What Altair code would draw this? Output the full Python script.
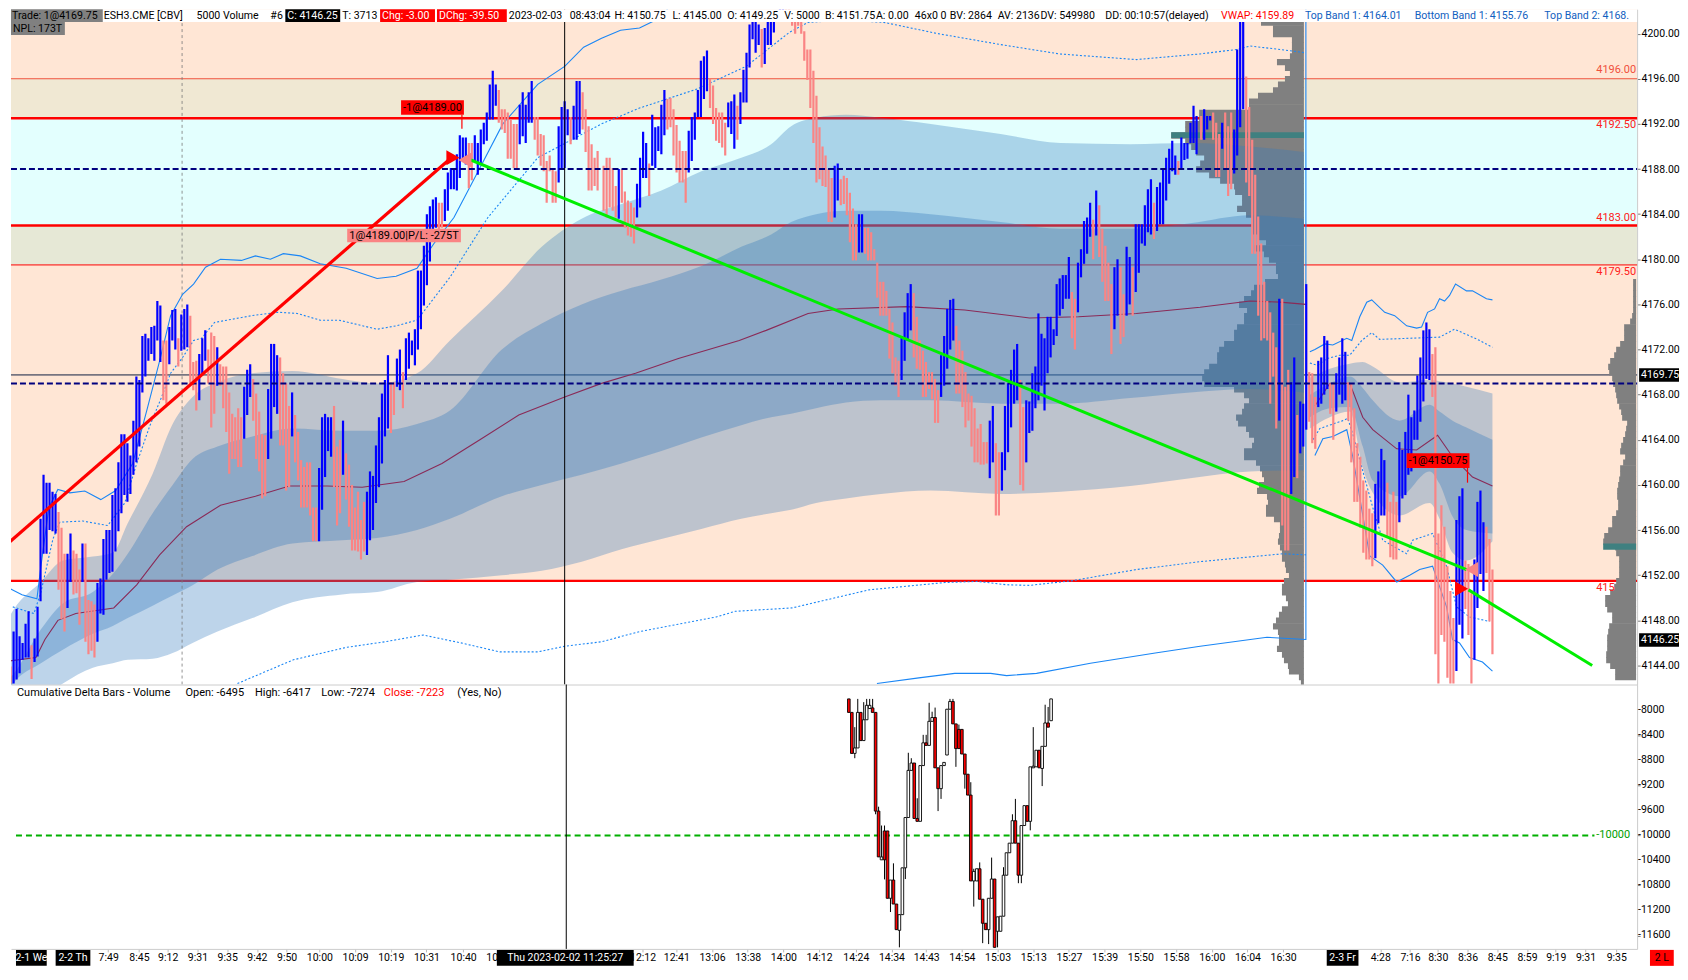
import altair as alt
import pandas as pd
import numpy as np

FONT = "Roboto, sans-serif"
FS = 11
HFS = 10.6
AFS = 10.5

# ---------- price bars (high, low, 1 = up) ----------
bars_a = [(4142.75,4142,0),(4143.9,4142.4,0),(4147,4142.4,1),(4149,4142.75,1),(4146.6,4143.3,1),(4146,4144.5,1),(4147.7,4144.7,1),(4148.8,4144.7,1),(4145.8,4142.8,0),(4146.4,4144.3,1),(4149.2,4144.8,1),(4157,4149.7,1),
(4160.9,4153.9,1),(4160.2,4153.9,1),(4160.2,4156,1),(4159.4,4155.9,1),(4159.2,4155.7,1),(4157.6,4150.7,0),(4156.2,4148.1,0),(4153.9,4147,0),(4153.9,4149.1,1),(4155.7,4151.4,1),(4154.2,4150.3,0),(4153.9,4150.4,0),(4152.5,4147.6,0),(4154.8,4151.4,1),(4154.8,4146.1,0),(4149.8,4145,0),(4149.7,4145.3,0),(4149.4,4144.7,0),
(4151.3,4146.1,1),(4151.7,4148.6,1),(4155.2,4148.5,1),(4156,4151.6,1),(4156,4152.2,1),(4159.1,4152.3,1),(4159.7,4154.1,1),(4162,4155.9,1),(4164.5,4157.5,1),(4164.5,4159.1,1),(4163.7,4158.5,1),(4162.6,4159.2,1),(4165.7,4160.9,1),(4169.6,4162,1),(4169.3,4163.4,1),(4173.2,4168.2,1),(4173.4,4169.6,1),(4173,4171,1),(4174,4171.6,1),(4174.1,4171,1),(4176.3,4172.8,1),(4175.9,4170.9,1),
(4172.8,4167.5,0),(4172.8,4167.2,0),(4174,4170.7,1),(4175.5,4172.8,1),(4175.6,4172,1),(4173,4170.5,0),(4175.1,4171.9,1),(4175.6,4172,1),(4176,4172.2,1),(4175,4169,0),(4170.9,4168.4,0),(4171,4166.6,0),(4171.6,4167.5,1),(4173,4169.9,1),(4173.7,4171,1),(4172,4169,0),(4173.5,4165.1,0),(4173.2,4166.3,0),(4172.2,4168.8,1),(4170.7,4168.8,0),(4170.5,4166.8,0),(4170.5,4164.7,0),(4168.2,4161,0),(4166.3,4162.3,0),(4166,4162.3,0),(4166.8,4161.6,0),(4166,4161.6,0),
(4168.7,4164.1,1),(4170.2,4166.2,1),(4170.7,4167.8,1),(4169.4,4165.7,0),(4168.1,4162.3,0),(4166.5,4161.2,0),(4164.5,4158.8,0),(4164.4,4159,0),(4168.5,4162.3,1),(4172.5,4164.1,1),(4172.5,4166.9,1),(4171.5,4166.3,1),(4171.3,4163.5,0),(4169.9,4163.5,0),(4169,4159.5,0),(4167,4159.8,0),(4168.2,4164.3,1),(4166.2,4162,0),(4164.7,4160.4,0),(4162.2,4158,0),(4161.6,4158,0),(4162,4158,0),(4162,4157.3,0),(4158,4155,0),(4158,4155,0),
(4161.5,4155,1),(4166,4157.8,1),(4166.3,4160.7,1),(4166,4163,1),(4166,4162.5,1),(4167,4159.8,0),(4163.4,4156.4,0),(4164,4157.5,0),(4165.7,4160.9,1),(4162.8,4158.7,0),(4161.8,4156.3,0),(4160,4154.2,0),(4158,4154.2,0),(4159.4,4154.1,0),(4156.9,4153.4,0),(4158.5,4154.1,0),(4159.4,4153.8,1),(4161.2,4155.1,1),(4160.8,4156,1),(4163.5,4158.4,1),(4166,4159.8,1),(4168.1,4161.9,1),(4169.3,4164.3,1),(4171.5,4165,1),(4169.1,4164.6,0),(4169.1,4166.2,0),(4171.2,4168.7,1),(4172,4168.4,1),(4170,4166.8,0),(4173,4169.3,1),(4173.5,4170.3,1),(4172.8,4171.5,1),(4173.8,4170.6,1),
(4179,4172,1),(4179,4173.8,1),(4181.2,4175.9,1),(4184,4177.7,1),(4184.7,4179.8,1),(4185.3,4181.7,1),(4185.5,4182.8,1),(4185,4182.5,0),(4185,4182.8,0),(4186.2,4183.4,1),(4187.7,4184.3,1),(4188.1,4186.2,1),(4188.1,4186.2,1),(4189.3,4186.1,1),(4191,4187.2,1),(4190.8,4188.7,1),(4190.8,4188.4,1),(4190.3,4186.3,0),(4190.3,4187,0),(4191,4188.7,1),(4190.3,4187.5,1),(4191.5,4188.4,1),(4192.1,4190.2,1),(4193,4190.5,1),(4195.5,4192.4,1),(4196.7,4192.4,1),(4195.5,4193.6,1),
(4195,4192.1,0),(4193.3,4191.5,0),(4193.3,4191.2,0),(4193,4188.9,0),(4192.4,4188.9,0),(4192,4188.1,0),(4192,4188.1,0),(4193.7,4190.2,1),(4194.8,4190.9,1),(4193.7,4190.3,1),(4194.8,4192.1,1),(4195.8,4192.1,1),(4192.6,4190.6,0),(4192.6,4189.2,0),(4191.1,4188.3,0),(4191,4187.8,0),(4188.7,4185,0),(4189.2,4187.8,0),(4188,4185,0),(4187.8,4185,0),(4191.8,4186.8,1),(4193.5,4188.1,1),(4194,4188.1,1),(4193.3,4191,1),(4192.6,4190.2,0),(4193.6,4190.6,1),(4195.8,4190.6,1),(4195.8,4191.1,1),(4194.8,4191.5,0),(4193.3,4189.5,0),(4191.8,4186.1,0),(4190.2,4186.1,0),(4189,4186.5,0),(4189.6,4186.1,0)]

bars_b = [(4188.3,4184.3,0),(4189,4183.7,0),(4189,4184.6,0),(4188.1,4184.3,0),(4186.5,4183.7,0),(4188,4183.6,1),(4188,4185,0),(4186,4182.8,0),(4185.2,4182.1,0),(4185,4182,0),(4184.6,4181.4,0),(4186.7,4183.7,1),(4189,4184.6,1),(4191.3,4187.2,1),(4190.3,4187.2,1),(4188.5,4185.6,0),(4192.8,4188.3,1),(4191.7,4188.1,1),(4191.8,4189.6,1),(4193.7,4189.3,1),(4195,4191,1),(4194.2,4191.5,0),(4194.3,4191.7,0),(4193.3,4189.2,0),(4191.9,4187.7,0),(4190.5,4186.8,0),(4189.6,4186.8,0),(4189.6,4185,0),
(4191.4,4187.7,1),(4192.6,4188.7,1),(4193,4190.6,1),(4195,4192.6,1),(4197.6,4192.6,1),(4198,4194.2,1),(4198.5,4194.9,1),(4196,4193.4,0),(4195.4,4192,0),(4193.4,4190.5,0),(4193,4190.3,0),(4193,4189.9,0),(4192.1,4189.2,0),(4193.9,4191.7,1),(4194,4191.1,1),(4194.6,4189.8,1),(4193.6,4190.6,0),(4194.8,4192,1),(4196.8,4193.9,1),(4198.3,4193.9,1),(4200.8,4197,1),(4201.6,4199.5,1),(4201.3,4198.3,1),(4200.8,4199,1),(4200.4,4197,0),(4200.5,4197.3,1),(4201.1,4199,1),(4201.5,4199,1),(4201.4,4200.1,1),(4201.5,4201.1,1),
(4204,4201.6,1),(4204,4201.6,1),(4204,4201.6,0),(4204,4201.6,0),(4201.5,4200.7,0),(4201.5,4200,0),(4201.5,4200.7,0),(4201.5,4200,0),(4200.2,4197.6,0),(4198.6,4195.9,0),(4198.6,4193.4,0),(4196.7,4190.3,0),(4194.5,4186.8,0),(4191.7,4187.1,0),(4190,4186.5,0),(4189.2,4186.4,0),(4188,4183.3,0),(4187.2,4183.3,0),(4188.3,4183.7,1),(4188.5,4185.2,1),(4187.1,4184.8,0),(4187.4,4184.9,0),(4187.2,4183.9,0),(4185.9,4181.5,0),(4184.5,4179.9,0),(4183.1,4179.9,0),(4184,4180.6,1),(4184,4180.6,1),(4182.8,4180.5,0),(4182.8,4179.9,0),(4182.4,4179.9,0),(4180.9,4179.9,0),
(4179.7,4176.6,0),(4178,4175,0),(4178,4175,0),(4177.2,4175,0),(4175.6,4171.2,0),(4174.4,4169.9,0),(4171.3,4168.8,0),(4171,4167.8,0),(4173.2,4169.3,1),(4175.3,4171,1),(4177,4172.8,1),(4177.8,4173.7,1),(4177,4171.3,0),(4174.9,4170.3,0),(4172.8,4170.2,0),(4171.9,4167.8,0),(4170.9,4167.8,0),(4170,4168.5,0),(4170,4167.6,0),(4169.4,4165.5,0),(4168.4,4165.5,0),(4171.5,4167.8,1),(4173.2,4168.8,1),(4175.6,4170.3,1),(4176.4,4172,1),(4176.5,4172.8,1),(4174.1,4168.1,0),(4172.8,4168.1,0),(4171.9,4166.9,0),(4170,4165.1,0),(4168.1,4165.7,0),(4167.9,4163.4,0),(4166.8,4162,0),(4165,4162,0),(4165.4,4161.8,0),(4163.8,4161.8,0),(4163.8,4161.9,0),
(4165.7,4160.6,1),(4167,4162,1),(4163.7,4157.3,0),(4162.9,4157.3,0),(4162.9,4159.5,1),(4167,4161.3,1),(4169,4162.9,1),(4170.2,4165.1,1),(4172,4167.2,1),(4172.5,4167.5,1),(4169.3,4160,0),(4166.9,4159.5,0),(4167.5,4162,1),(4167.4,4164.6,1),(4169.9,4164.8,1),(4170.5,4166.8,1),(4175.2,4167.5,1),(4173.4,4168.8,1),(4173,4166.6,1),(4174.9,4169.9,1),(4174.9,4171.3,1),(4173.8,4172.4,1),(4177.8,4173.2,1),(4178.3,4175,1),(4178.6,4175.6,1),(4178.6,4176.5,1),(4180.2,4176.5,1),(4177.1,4173,0),(4176.5,4172,0),(4179.7,4175.3,1),(4180.9,4178.4,1),(4183.4,4179.6,1),(4183.7,4180.5,1),(4185,4182,1),(4183.5,4180,0),(4186.1,4182.1,1),(4184.8,4180.2,0),(4182.7,4178,0),(4181.2,4176.3,0),(4179.7,4176.3,0),(4177.8,4171.6,0),(4179.3,4173.8,1),(4180,4175,1),(4179.3,4172.5,0),(4176.9,4173.1,0),(4181.1,4175,1),(4180.2,4176,1),(4179.3,4175,0),(4183.1,4177.1,1),(4183.1,4178.8,1),(4183.1,4181.4,1),(4184.8,4181.2,1),(4186.2,4182.4,1),(4187.1,4182.2,1),(4185,4181.8,0),(4186.4,4182.5,1),(4186.8,4183.1,1),(4188.1,4183.1,1),(4189,4185.2,1),(4189.8,4186.7,1),(4190.5,4187.8,1),(4189.2,4187.5,1),(4188.7,4187.5,0),(4190.8,4188,1),(4190.3,4188.8,1),(4190.3,4188.9,1),(4192.1,4190.3,1),(4193.6,4190.3,1),(4192.7,4189.3,1)]

bars_c = [(4192.7,4190.6,0),(4193.3,4190.6,1),(4192.7,4191.5,1),(4192.7,4192.3,1),(4193,4190.6,0),(4192.1,4187.3,0),(4191.1,4187.3,0),(4192.1,4189.8,1),(4193,4188,0),(4191.8,4185.6,0),(4193,4186.2,0),(4191.5,4187.6,1),(4198.6,4189.2,1),(4201.5,4191.7,1),(4201.5,4193.3,1),(4196.2,4186.8,0),(4193.5,4185.6,0),(4190.6,4180.5,0),(4187.5,4180.5,0),(4183.8,4175,0),(4181.4,4172.8,0),(4178,4173,0),(4176.3,4172.8,0),(4175.3,4167.2,0),(4173.5,4169.6,0),(4172.2,4165,0),(4176.5,4165.7,1),(4176.5,4156.4,0),(4168.7,4154.2,0),(4170.2,4154.2,0),(4169.1,4159.2,1),(4171.3,4160.7,1),(4166.2,4160.6,0),(4167.4,4162.8,1),(4167.2,4163.4,1),(4177.8,4164.9,1),(4170,4165.6,0),(4169.9,4163.7,0),(4167.8,4163.2,0),(4171,4166.9,1),(4171.3,4167.2,1),(4173.2,4168,1),(4172.8,4168.5,1),(4169,4166.3,0),(4169,4164,0),(4169.9,4166.5,1),(4171.3,4168,1),(4173,4167.2,1),(4171.8,4167.5,1),(4169.1,4165.7,0),(4169,4162,0),(4166.8,4158.5,0),(4163.7,4158.5,0),(4162.5,4156.2,0),(4160.4,4154,0),(4159.5,4153.4,0),(4157.9,4153.4,0),(4157.5,4152.8,0),(4160.1,4153.5,1),(4161.2,4156.6,1),(4163.2,4157.3,1),(4162.2,4157.3,1),(4160.2,4155.4,0),(4158.5,4153.6,0),(4159.4,4153.4,0),(4158.5,4153.4,0),(4163.8,4156.7,1),(4163.1,4158.8,1),(4164.7,4159.1,1),(4168,4160.9,1),(4166,4161.2,1),(4166.6,4164,1),(4169.7,4164,1),(4171.3,4165.6,1),(4173.7,4167.4,1),(4174.4,4169.4,1),(4173.8,4169.3,1),(4171.6,4167.8,0),(4172.2,4145,0),(4155.7,4142.4,0),(4158.2,4146.7,0),(4156.3,4146.1,0),(4152.8,4142.9,0),(4150.6,4142.4,0),(4148.2,4142.4,0),(4156.9,4143.5,1),(4159,4147.6,1),(4159.7,4146.4,1),(4153.3,4149,0),(4153,4146.7,0),(4150.4,4142.4,0),(4153.4,4144.5,1),(4158.5,4149.1,1),(4159.5,4152.1,1),(4156.7,4150.6,1),(4156.3,4152.2,0),(4155.2,4147.9,0),(4152.5,4145,0)]

# ---------- volume profiles ----------
prof1_top = 4201.5
prof1_vol = [31,43,31,31,12,12,12,14,27,19,14,19,26,31,46,55,55,105,105,119,119,133,119,113,108,100,104,108,95,84,70,69,62,62,67,58,52,51,51,45,38,50,40,35,28,28,26,39,50,53,60,65,57,60,60,67,70,70,80,85,87,87,95,100,102,100,70,60,55,60,62,68,66,58,55,50,52,60,60,48,44,42,40,45,47,37,36,38,38,30,24,24,25,26,24,22,22,19,18,15,20,22,22,18,16,22,25,28,31,26,25,25,27,22,20,16,15,5,3]
prof2_top = 4178.0
prof2_vol = [3,3,3,3,3,3,4,6,12,12,12,16,20,22,26,28,27,24,23,21,20,19,17,15,14,9,10,11,13,15,16,11,13,16,16,17,18,19,19,18,18,20,24,24,28,32,33,21,20,17,17,17,17,20,22,26,31,31,29,24,24,27,28,29,29,29,30,30,26,21,21]

# ---------- VWAP bands ----------
band1_x = [3,11,38,60,90,110,125,150,170,190,215,250,290,340,375,415,448,500,540,580,620,660,700,740,770,790,815,845,880,930,1000,1060,1130,1190,1250,1304]
band1_o_up = [4147.8,4149,4151.4,4153.3,4153.65,4154,4156.6,4161,4165.4,4167.8,4169.1,4169.9,4170.1,4169.4,4169,4169.9,4172.8,4177.2,4181.1,4183.6,4184.9,4186.1,4187.8,4189,4190.2,4191.8,4192.55,4192.8,4192.55,4192,4191.1,4190.3,4190.2,4190.3,4190,4189.5]
band1_i_up = [4142.5,4143.3,4147.2,4149.5,4150.5,4152.1,4153.9,4157.5,4160,4162.3,4163.4,4164.3,4165,4164.8,4164.8,4165.4,4166.6,4172,4174.3,4176,4177.2,4178.2,4179.4,4181.1,4182.2,4183.3,4184,4184.3,4184.3,4184,4183.3,4182.7,4182.7,4183.2,4183.9,4183.6]
band1_i_lo = [4141.5,4142.5,4144.2,4145.4,4146.8,4147.5,4148.2,4149.3,4150.2,4151.1,4152.5,4153.7,4154.8,4155.1,4155.3,4156,4157,4159,4160,4160.9,4161.9,4163,4164.2,4165.3,4166,4166.3,4166.8,4167.3,4167.5,4167.5,4167.2,4167.2,4167.7,4168.2,4168.5,4168.2]
band1_o_lo = [4140,4140,4141,4142.4,4143.8,4144.2,4144.5,4144.6,4145.1,4146,4147,4148.2,4149.6,4150.3,4150.5,4151.4,4151.6,4152,4152.4,4153.2,4154.3,4155.2,4156.1,4157,4157.5,4157.8,4158.4,4158.8,4159.2,4159.5,4159.2,4159.4,4159.9,4160.6,4161.2,4161.3]
band2_x = [1310,1330,1350,1363,1373,1400,1430,1440,1453,1467,1493]
band2_o_up = [4169.5,4170.3,4170.75,4170.9,4170.5,4169.1,4169.3,4169.2,4169,4168.7,4168.1]
band2_i_up = [4168,4169,4169.6,4168.6,4167.5,4165.7,4167.1,4166.5,4165.7,4165.1,4164]
band2_i_lo = [4166,4166.8,4166.9,4163.4,4160.4,4159,4161.2,4160.1,4157.2,4156,4155.7]
band2_o_lo = [4165,4166,4166.5,4161.5,4159.3,4157.3,4158.4,4157,4154,4153.3,4155]

# ---------- study lines ----------
top_solid = [(6,4150.85),(19,4150.26),(34,4149.9),(38,4152.8),(46,4158),(55,4159.6),(67,4159.3),(82,4159.46),(98,4158.7),(113,4159.5),(130,4161.9),(145,4166.9),(157,4171),(168,4175),(180,4176.9),(191,4177.8),(203,4179.3),(218,4180),(239,4179.9),(253,4180.3),(268,4180),(281,4180.5),(298,4180.3),(318,4179.6),(344,4179.2),(375,4178.3),(394,4178.5),(415,4179.2),(432,4181.4),(452,4183.7),(478,4188.1),(501,4192),(536,4195.5),(563,4197.1),(582,4198.8),(600,4199.6),(619,4200.3),(638,4200.5),(661,4201.5),(672,4203)]
top_dashed = [(6,4149.3),(31,4148.6),(38,4150.5),(50,4155.2),(57,4156.7),(80,4156.8),(105,4156.4),(122,4158.4),(134,4161.9),(147,4165.2),(159,4167.8),(168,4169.9),(180,4171.3),(191,4172.8),(199,4173),(212,4174.4),(249,4175),(276,4175.3),(295,4175.2),(318,4174.6),(337,4174.6),(375,4173.8),(394,4174.1),(415,4174.6),(448,4178.4),(486,4183.7),(536,4189),(600,4192),(638,4193.4),(696,4195.1),(745,4197.1),(788,4200.1),(807,4201),(845,4201.2),(883,4201),(937,4200),(1002,4199),(1059,4198.2),(1136,4197.7),(1200,4198.2),(1237,4198.6),(1250,4198.9),(1280,4198.6),(1306,4198.3)]
low_dashed = [(235,4142.4),(291,4144.5),(344,4145.6),(383,4146.1),(421,4146.7),(459,4146),(498,4145.2),(536,4145.2),(563,4145.7),(600,4146.1),(638,4147),(715,4148.3),(734,4148.8),(791,4149.1),(868,4150.7),(944,4151.35),(977,4151.45),(1006,4151.15),(1029,4151.1),(1071,4151.5),(1136,4152.5),(1200,4153.2),(1283,4153.9),(1306,4153.8)]
low_solid = [(876,4142.4),(918,4142.9),(954,4143.3),(990,4143.3),(1006,4143.1),(1036,4143.3),(1090,4144.2),(1155,4145.1),(1200,4145.7),(1267,4146.5),(1306,4146.3),(1306,4204)]
vwap1 = [(6,4144.4),(33,4144.7),(42,4146.3),(55,4148),(73,4148.6),(111,4149.1),(134,4151.15),(157,4153.8),(184,4156.3),(218,4158.2),(253,4159),(287,4159.9),(325,4159.9),(360,4159.8),(402,4160.3),(440,4161.9),(478,4164),(517,4166.2),(563,4167.8),(600,4169),(634,4169.9),(677,4171.2),(738,4172.8),(765,4173.7),(807,4175.2),(837,4175.6),(906,4175.8),(964,4175.5),(1029,4174.8),(1078,4174.9),(1136,4175.2),(1200,4175.75),(1250,4176.3),(1280,4176.2),(1306,4176)]
vwap2 = [(1315,4167),(1330,4169),(1350,4169),(1363,4166),(1373,4164.9),(1397,4163.2),(1417,4163.1),(1438,4164.4),(1453,4162.5),(1473,4160.7),(1493,4159.9)]
top_solid2 = [(1310,4171.8),(1315,4172),(1325,4172.5),(1333,4172.4),(1347,4173),(1352,4172.8),(1360,4174.9),(1367,4176.2),(1372,4176.4),(1385,4175.3),(1395,4175),(1407,4174.1),(1417,4173.9),(1422,4174),(1428,4175.3),(1435,4175.6),(1440,4176.5),(1445,4176.3),(1450,4176.8),(1456,4177.8),(1467,4177.2),(1473,4177.2),(1487,4176.5),(1493,4176.4)]
top_dashed2 = [(1310,4170.8),(1318,4170.6),(1327,4171.2),(1340,4171.5),(1350,4171.5),(1362,4172.8),(1372,4173.5),(1380,4172.9),(1440,4173.1),(1455,4173.8),(1478,4172.9),(1493,4172.2)]
low_dashed2 = [(1313,4164),(1320,4165),(1343,4165.7),(1348,4165.9),(1353,4164.5),(1373,4158),(1383,4155.1),(1407,4153.9),(1413,4155.1),(1433,4155.7),(1447,4152.8),(1457,4149.2),(1470,4148.3),(1490,4147.9)]
low_solid2 = [(1315,4162.6),(1323,4164.1),(1333,4164.3),(1347,4164.9),(1353,4162.5),(1370,4153.7),(1383,4152.9),(1397,4151.4),(1410,4152),(1420,4152.5),(1433,4152.8),(1447,4149.2),(1453,4146.3),(1460,4146),(1470,4144.7),(1483,4144.3),(1493,4143.5)]
entry_line = [(6,4154.9),(452,4189.2)]
exit_line_1 = [(469,4188.8),(1467,4152.5)]
exit_line_2 = [(1469,4150.7),(1593,4144)]

# ---------- lower study: candles (wick high, body top, body bottom, wick low, 1 = red) ----------
cd = [(-7815,-7815,-8031,-8031,1),(-8031,-8031,-8687,-8687,1),(-8267,-8600,-8687,-8764,0),(-7815,-8031,-8600,-8600,0),(-8031,-8031,-8482,-8482,1),(-7867,-8149,-8482,-8482,0),(-7815,-7918,-8149,-8149,0),(-7815,-7918,-7969,-7969,0),(-7815,-7959,-8031,-8031,1),(-8031,-8031,-9610,-9661,1),
(-9540,-9610,-10343,-10343,1),(-9841,-10343,-10390,-10390,0),(-9841,-9928,-10390,-10703,1),(-9928,-9928,-11005,-11005,1),(-10713,-10713,-11005,-11225,0),(-10446,-10713,-11097,-11097,1),(-11097,-11097,-11507,-11507,1),(-11267,-11267,-11518,-11790,0),(-10518,-10518,-11267,-11267,0),(-9713,-9713,-10518,-10697,0),
(-8677,-8959,-9713,-9713,0),(-8764,-8841,-8959,-8959,0),(-8841,-8841,-9728,-9728,1),(-9405,-9728,-9774,-9774,1),(-8882,-8882,-9774,-9200,0),(-8390,-8518,-8882,-8882,0),(-8390,-8518,-8559,-8559,1),(-7877,-8174,-8559,-8559,0),(-8020,-8113,-8174,-8174,0),(-7954,-8113,-8918,-8918,1),
(-8918,-8918,-9251,-9610,1),(-8882,-8882,-9251,-9415,0),(-8831,-8831,-8882,-8882,0),(-7980,-7980,-8713,-8713,0),(-7815,-7856,-7980,-7980,0),(-7815,-7856,-8215,-8215,1),(-8215,-8215,-8610,-8902,1),(-8226,-8303,-8610,-8610,1),(-8303,-8303,-8697,-8697,1),(-8697,-8697,-9020,-9251,1),
(-9020,-9020,-9354,-9354,1),(-9148,-9354,-10728,-10728,1),(-10533,-10575,-10728,-11138,0),(-10533,-10533,-10728,-10728,0),(-10431,-10533,-11020,-11020,1),(-11020,-11020,-11405,-11723,1),(-11405,-11405,-11507,-11507,1),(-11005,-11005,-11507,-11738,0),(-10354,-10697,-11005,-11005,0),(-10697,-10697,-11790,-11790,1),
(-11302,-11302,-11533,-11790,0),(-11292,-11292,-11533,-11533,0),(-10508,-10636,-11292,-11292,0),(-10277,-10277,-10636,-10636,0),(-10123,-10123,-10277,-10277,0),(-9661,-9764,-10123,-10123,0),(-9415,-9764,-10123,-10123,1),(-10123,-10123,-10636,-10764,1),(-9841,-9841,-10636,-10764,0),(-9523,-9523,-9841,-9841,0),
(-9523,-9523,-9774,-9774,1),(-8902,-8902,-9774,-9918,0),(-8267,-8892,-8918,-8918,0),(-8636,-8636,-8902,-8902,0),(-8636,-8636,-8918,-8918,1),(-8574,-8574,-8928,-9210,0),(-7908,-8200,-8574,-8574,0),(-7944,-8200,-8267,-8267,1),(-7815,-7815,-8164,-8164,0)]

# ---------- axis and label text ----------
price_ticks = [4144,4148,4152,4156,4160,4164,4168,4172,4176,4180,4184,4188,4192,4196,4200]
delta_ticks = [-8000,-8400,-8800,-9200,-9600,-10000,-10400,-10800,-11200,-11600]
time_ticks = [101,132,161,191,221,251,281,314,350,386,422,459,495,640,674,710,746,782,818,855,891,926,962,998,1034,1070,1106,1142,1178,1214,1250,1286,1384,1414,1442,1472,1502,1532,1561,1591,1622]
time_text = ["7:49","8:45","9:12","9:31","9:35","9:42","9:50","10:00","10:09","10:19","10:31","10:40","10:50","12:12","12:41","13:06","13:38","14:00","14:12","14:24","14:34","14:43","14:54","15:03","15:13","15:27","15:39","15:50","15:58","16:00","16:04","16:30","4:28","7:16","8:30","8:36","8:45","8:59","9:19","9:31","9:35"]

head_text = ["Trade: 1@4169.75","ESH3.CME [CBV]","5000 Volume","#6","C: 4146.25","T: 3713","Chg: -3.00","DChg: -39.50","2023-02-03","08:43:04","H: 4150.75","L: 4145.00","O: 4149.25","V: 5000","B: 4151.75","A: 0.00","46x0 0","BV: 2864","AV: 2136","DV: 549980","DD: 00:10:57(delayed)","VWAP: 4159.89","Top Band 1: 4164.01","Bottom Band 1: 4155.76","Top Band 2: 4168."]
head_x = [9,101,194,268,285,340,380,437,507,568,613,671,726,783,824,875,914,949,997,1040,1105,1221,1305,1415,1545]
head_col = ["black","black","black","black","white","black","white","white","black","black","black","black","black","black","black","black","black","black","black","black","black","#FF0000","#1060C0","#1060C0","#1060C0"]
box_text_x = [(8,100,"#808080"),(283,338,"black"),(378,433,"#FF0000"),(435,505,"#FF0000")]

XS = alt.Scale(domain=[8, 1638], nice=False, zero=False)
YS = alt.Scale(domain=[4142.31, 4202.17], nice=False, zero=False)
YD = alt.Scale(domain=[-11815, -7585], nice=False, zero=False)
X = lambda f="x": alt.X(f + ":Q", scale=XS, title=None)
Y = lambda f="y": alt.Y(f + ":Q", scale=YS, title=None)
X2 = alt.X2("x2:Q")
Y2 = alt.Y2("y2:Q")
one = pd.DataFrame({"a": [0]})
TOPW, TOPH, LOWH = 1630, 677, 265

def rect(x, x2, y, y2, color, opacity=1):
    d = pd.DataFrame({"x": [x], "x2": [x2], "y": [y], "y2": [y2]})
    return alt.Chart(d).mark_rect(color=color, opacity=opacity, clip=True).encode(x=X(), x2=X2, y=Y(), y2=Y2)

def hline(p, color, w, dash=None, x_end=1638):
    d = pd.DataFrame({"x": [8], "x2": [x_end], "y": [p]})
    kw = {"strokeDash": dash} if dash else {}
    return alt.Chart(d).mark_rule(color=color, strokeWidth=w, **kw).encode(x=X(), x2=X2, y=Y())

def path(pts, color="#1A86F5", w=1.1, dash=None):
    d = pd.DataFrame(pts, columns=["x", "y"])
    d["o"] = range(len(d))
    kw = {"strokeDash": dash} if dash else {}
    return alt.Chart(d).mark_line(color=color, strokeWidth=w, clip=True, **kw).encode(x=X(), y=Y(), order="o:Q")

def band(xs, up, lo, alpha):
    d = pd.DataFrame({"x": xs, "y": up, "y2": lo})
    return alt.Chart(d).mark_area(color="#3179BD", opacity=alpha, clip=True, interpolate="monotone").encode(x=X(), y=Y(), y2=Y2)

def profile(top, vols, right):
    d = pd.DataFrame({"y": [top - 0.5 * i + 0.25 for i in range(len(vols))], "vol": vols})
    d["y2"] = d["y"] - 0.56
    d["x"] = right - d["vol"]
    d["x2"] = right
    return alt.Chart(d).mark_rect(color="#808080", clip=True).encode(x=X(), x2=X2, y=Y(), y2=Y2)

def bars(sec, x0, x1):
    d = pd.DataFrame(sec, columns=["y", "y2", "up"])
    d["x"] = np.linspace(x0, x1, len(d))
    return d

bars_df = pd.concat([bars(bars_a, 4.6, 596), bars(bars_b, 602, 1196.4), bars(bars_c, 1201, 1493)])
price_up = alt.Chart(bars_df[bars_df.up == 1]).mark_rule(color="#0000FF", strokeWidth=2.2, clip=True).encode(x=X(), y=Y(), y2=Y2)
price_dn = alt.Chart(bars_df[bars_df.up == 0]).mark_rule(color="#FA8484", strokeWidth=2.2, clip=True).encode(x=X(), y=Y(), y2=Y2)

def vrule(x, y, y2, color, w=1, dash=None):
    d = pd.DataFrame({"x": [x], "y": [y], "y2": [y2]})
    kw = {"strokeDash": dash} if dash else {}
    return alt.Chart(d).mark_rule(color=color, strokeWidth=w, clip=True, **kw).encode(x=X(), y=Y(), y2=Y2)

def tag(x, x2, y, y2, color, text):
    d = pd.DataFrame({"x": [(x + x2) / 2], "y": [(y + y2) / 2], "t": [text]})
    return rect(x, x2, y, y2, color) + alt.Chart(d).mark_text(font=FONT, fontSize=FS, color="black", baseline="middle").encode(x=X(), y=Y(), text="t:N")

def lab(x, y, text, color, align="left", size=FS):
    d = pd.DataFrame({"x": [x], "y": [y], "t": [text]})
    return alt.Chart(d).mark_text(font=FONT, fontSize=size, color=color, align=align, baseline="middle").encode(x=X(), y=Y(), text="t:N")

def tri(x, y, shape, color):
    d = pd.DataFrame({"x": [x], "y": [y]})
    return alt.Chart(d).mark_point(shape=shape, filled=True, color=color, opacity=1, size=230).encode(x=X(), y=Y())

axis_top = alt.Chart(pd.DataFrame({"x": [8], "y": [4170]})).mark_point(opacity=0).encode(
    x=alt.X("x:Q", scale=XS, axis=alt.Axis(title=None, labels=False, ticks=False, grid=False, domainColor="#CCCCCC")),
    y=alt.Y("y:Q", scale=YS, axis=alt.Axis(orient="right", title=None, values=price_ticks, format=".2f", grid=False, labelOverlap=False,
        labelFont=FONT, labelFontSize=AFS, labelColor="black", tickColor="#777777", tickSize=3, labelPadding=1, domainColor="#CCCCCC")))

head_df = pd.DataFrame({"x": head_x, "t": head_text, "c": head_col})
header = [
    alt.Chart(one).mark_rect(color="white").encode(x=alt.value(0), x2=alt.value(TOPW), y=alt.value(0), y2=alt.value(13)),
]
for a, b, c in box_text_x:
    d = pd.DataFrame({"x": [a], "x2": [b]})
    header.append(alt.Chart(d).mark_rect(color=c).encode(x=X(), x2=X2, y=alt.value(0), y2=alt.value(13)))
header.append(alt.Chart(pd.DataFrame({"x": [8], "x2": [62]})).mark_rect(color="#808080").encode(x=X(), x2=X2, y=alt.value(13), y2=alt.value(26)))
header.append(alt.Chart(head_df).mark_text(font=FONT, fontSize=HFS, align="left", baseline="middle").encode(
    x=X(), y=alt.value(7), text="t:N", color=alt.Color("c:N", scale=None)))
header.append(alt.Chart(pd.DataFrame({"x": [10], "t": ["NPL: 173T"]})).mark_text(font=FONT, fontSize=HFS, align="left", baseline="middle", color="black").encode(
    x=X(), y=alt.value(20), text="t:N"))

layers = [
    axis_top,
    rect(8, 1638, 4151.5, 4204, "#FFE6D5"),
    rect(8, 1638, 4192.5, 4196, "#F0E8D3"),
    rect(8, 1638, 4183, 4192.5, "#E3FFFE"),
    rect(8, 1638, 4179.5, 4183, "#E6E8D6"),
    hline(4196, "#F0503C", 1),
    hline(4179.5, "#FF0000", 1),
    hline(4192.5, "#FF0000", 2.4),
    hline(4183, "#FF0000", 2.4),
    hline(4151.5, "#FF0000", 2.4),
    hline(4169.75, "#102040", 1),
    profile(prof1_top, prof1_vol, 1304),
    profile(prof2_top, prof2_vol, 1637),
    rect(1171, 1304, 4190.75, 4191.25, "#3F8080"),
    rect(1604, 1637, 4154.25, 4154.8, "#3F8080"),
    band(band1_x, band1_o_up, band1_o_lo, 0.32),
    band(band1_x, band1_i_up, band1_i_lo, 0.34),
    band(band2_x, band2_o_up, band2_o_lo, 0.32),
    band(band2_x, band2_i_up, band2_i_lo, 0.34),
    vrule(179.5, 4142.31, 4202.17, "#777777", 0.8, [3, 3]),
    path(top_solid), path(top_dashed, dash=[2, 2]), path(low_dashed, dash=[2, 2]), path(low_solid),
    path(top_solid2), path(top_dashed2, dash=[2, 2]), path(low_dashed2, dash=[2, 2]), path(low_solid2),
    path(vwap1, "#8A2A57", 1.1), path(vwap2, "#8A2A57", 1.1),
    price_dn, price_up,
    hline(4188, "#00007F", 2, [6, 3]),
    hline(4169, "#00007F", 2, [6, 3]),
    vrule(563, 4142.31, 4202.17, "#000000", 1),
    path(entry_line, "#FF0000", 3.2),
    path(exit_line_1, "#00EE00", 3),
    path(exit_line_2, "#00EE00", 3),
    tri(451, 4189, "triangle-right", "#FF0000"),
    tri(463, 4188.8, "triangle-left", "#FA8484"),
    tri(1462, 4150.8, "triangle-right", "#FF0000"),
    tri(1472, 4152.5, "triangle-left", "#FA8484"),
    vrule(460, 4192.8, 4191.56, "#FF0000", 1.2),
    vrule(1468, 4161.5, 4160.2, "#FF0000", 1.2),
    tag(399, 462, 4194.1, 4192.8, "#FF0000", "-1@4189.00"),
    tag(345, 459, 4182.7, 4181.5, "#FA8484", "1@4189.00|P/L: -275T"),
    tag(1407, 1470, 4162.8, 4161.5, "#FF0000", "-1@4150.75"),
    lab(1637, 4196.77, "4196.00", "#F0503C", "right"),
    lab(1637, 4191.9, "4192.50", "#FF2020", "right"),
    lab(1637, 4183.7, "4183.00", "#FF2020", "right"),
    lab(1637, 4178.85, "4179.50", "#FF2020", "right"),
    lab(1597, 4150.85, "415", "#FF2020"),
] + header

# current-price boxes on the price axis
for p, s in [(4169.75, "4169.75"), (4146.25, "4146.25")]:
    d = pd.DataFrame({"x": [1640], "x2": [1680], "p": [p], "t": [s]})
    d["y"] = p + 0.6
    d["y2"] = p - 0.6
    layers.append(alt.Chart(d).mark_rect(color="black").encode(x=X(), x2=X2, y=Y(), y2=Y2))
    layers.append(alt.Chart(d).mark_text(font=FONT, fontSize=AFS, color="white", align="left", baseline="middle", dx=2).encode(x=X(), y=Y("p"), text="t:N"))

top = alt.layer(*layers).properties(width=TOPW, height=TOPH)

# ---------- lower pane ----------
label_map = "{" + ",".join(f"'{k}':'{v}'" for k, v in zip(time_ticks, time_text)) + "}"
YL = lambda f="y": alt.Y(f + ":Q", scale=YD, title=None)
axis_low = alt.Chart(pd.DataFrame({"x": [8], "y": [-9000]})).mark_point(opacity=0).encode(
    x=alt.X("x:Q", scale=XS, axis=alt.Axis(title=None, values=time_ticks, labelExpr=label_map + "[''+datum.value]", grid=False,
        labelFont=FONT, labelFontSize=AFS, labelColor="black", labelFlush=False, labelOverlap=False, tickColor="#BBBBBB", tickSize=3, labelPadding=1, domainColor="#CCCCCC")),
    y=alt.Y("y:Q", scale=YD, axis=alt.Axis(orient="right", title=None, values=delta_ticks, labels=False, grid=False,
        tickColor="#777777", tickSize=3, domainColor="#CCCCCC")))

delta_df = pd.DataFrame({"x": [1644] * len(delta_ticks), "y": delta_ticks, "t": [str(v) for v in delta_ticks]})
delta_labels = alt.Chart(delta_df).mark_text(font=FONT, fontSize=AFS, color="black", align="left", baseline="middle").encode(x=X(), y=YL(), text="t:N")

cdf = pd.DataFrame(cd, columns=["hi", "top", "bot", "lo", "red"])
cdf["x"] = np.linspace(848, 1052, len(cdf))
cdf["col"] = cdf.red.map({1: "#FF0000", 0: "#FFFFFF"})
wicks = alt.Chart(cdf).mark_rule(color="black", strokeWidth=1, clip=True).encode(x=X(), y=YL("hi"), y2=alt.Y2("lo:Q"))
bodies = alt.Chart(cdf).mark_bar(size=2.6, stroke="black", strokeWidth=0.9, clip=True, orient="vertical").encode(
    x=X(), y=YL("top"), y2=alt.Y2("bot:Q"), fill=alt.Fill("col:N", scale=None))

legend_text = ["Cumulative Delta Bars - Volume", "Open: -6495", "High: -6417", "Low: -7274", "Close: -7223", "(Yes, No)"]
legend_x = [9, 179, 249, 316, 379, 453]
legend_c = ["black", "black", "black", "black", "#FF0000", "black"]
leg_df = pd.DataFrame({"x": legend_x, "t": legend_text, "c": legend_c})
legend = alt.Chart(leg_df).mark_text(font=FONT, fontSize=FS, align="left", baseline="middle").encode(
    x=X(), y=alt.value(8), text="t:N", color=alt.Color("c:N", scale=None))

d10 = pd.DataFrame({"x": [8], "x2": [1600], "y": [-10000]})
lvl = alt.Chart(d10).mark_rule(color="#00B000", strokeWidth=2, strokeDash=[6, 4]).encode(x=X(), x2=X2, y=YL())
lvl_txt = alt.Chart(pd.DataFrame({"x": [1636], "y": [-10000], "t": ["-10000"]})).mark_text(font=FONT, fontSize=FS, color="#00A000", align="right", baseline="middle").encode(x=X(), y=YL(), text="t:N")
cross = alt.Chart(pd.DataFrame({"x": [563]})).mark_rule(color="black", strokeWidth=1).encode(x=X())

boxes = [(0, 39, "2-1 We", "black"), (48, 83, "2-2 Th", "black"), (493, 631, "Thu 2023-02-02  11:25:27", "black"), (1330, 1362, "2-3 Fr", "black"), (1656, 1680, "2 L", "#FF0000")]
box_layers = []
for a, b, s, c in boxes:
    d = pd.DataFrame({"x": [max(a, 8)], "x2": [b], "m": [(max(a, 8) + b) / 2], "t": [s]})
    box_layers.append(alt.Chart(d).mark_rect(color=c).encode(x=X(), x2=X2, y=alt.value(LOWH + 1), y2=alt.value(LOWH + 17)))
    box_layers.append(alt.Chart(d).mark_text(font=FONT, fontSize=AFS, color="white" if c == "black" else "black", baseline="middle").encode(x=X("m"), y=alt.value(LOWH + 9), text="t:N"))

low = alt.layer(axis_low, lvl, wicks, bodies, lvl_txt, delta_labels, cross, legend, *box_layers).properties(width=TOPW, height=LOWH)

chart = alt.vconcat(top, low, spacing=0, bounds="flush").configure_view(strokeWidth=0).properties(
    padding=0, background="white").configure_concat(spacing=0)

chart.save("out.html", embed_options={"renderer": "svg", "actions": False})
